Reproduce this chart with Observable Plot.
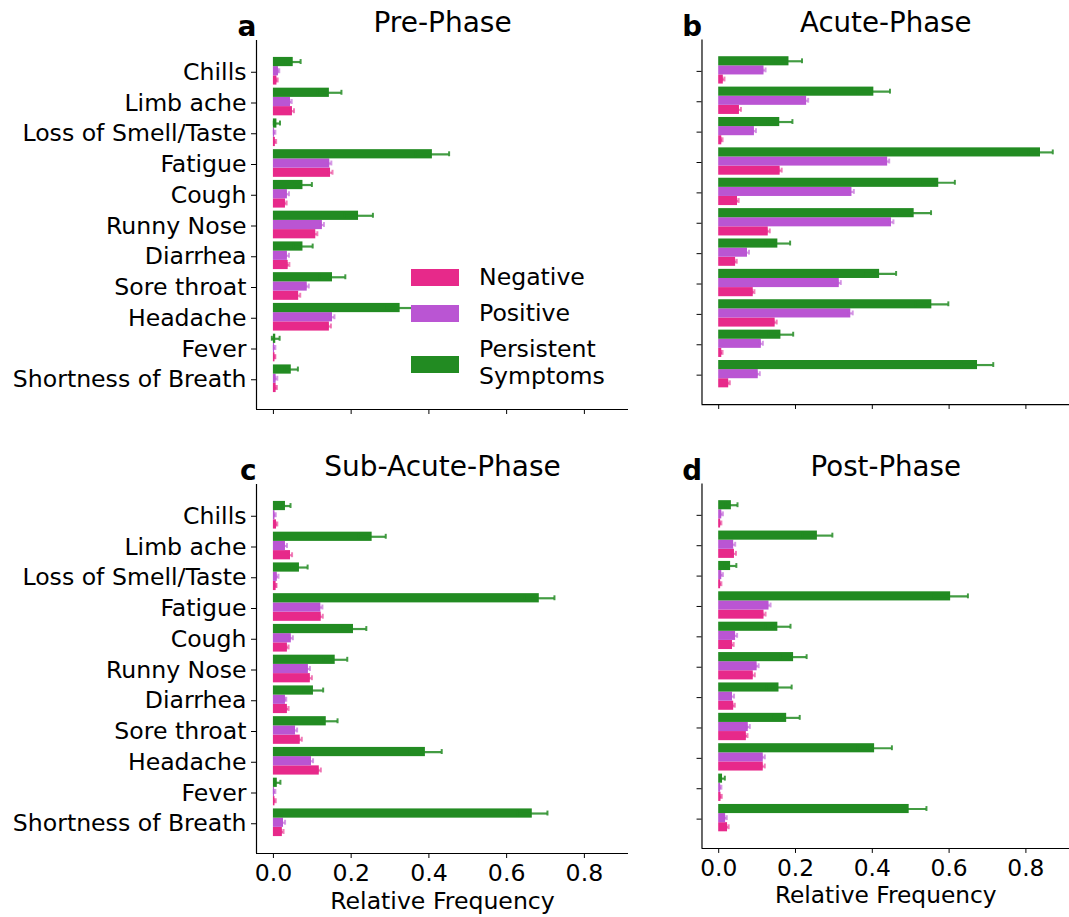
<!DOCTYPE html>
<html><head><meta charset="utf-8">
<script src="https://cdn.jsdelivr.net/npm/d3@7"></script>
<script src="https://cdn.jsdelivr.net/npm/@observablehq/plot@0.6"></script>
<style>
html,body{margin:0;padding:0;background:#fff;overflow:hidden;}
#wrap{position:relative;width:1069px;height:917px;overflow:hidden;font-family:"DejaVu Sans",sans-serif;color:#000;}
.panel{position:absolute;}
.sw{position:absolute;left:411px;width:48px;height:17px;}
.lt{position:absolute;left:479px;font-size:23.6px;line-height:27px;white-space:nowrap;}
</style></head><body><div id="wrap"></div>
<script>
const symptoms = ["Chills","Limb ache","Loss of Smell/Taste","Fatigue","Cough","Runny Nose","Diarrhea","Sore throat","Headache","Fever","Shortness of Breath"];
const groups = ["Negative","Positive","Persistent Symptoms"];
const groupColors = ["#e7298a","#ba55d3","#228b22"];
const phases = ["Pre-Phase","Acute-Phase","Sub-Acute-Phase","Post-Phase"];
const letters = ["a","b","c","d"];
const xTicks = [0,0.2,0.4,0.6,0.8];
const xLabel = "Relative Frequency";

// Pre-Phase
const preNeg     = [0.009,0.049,0.005,0.147,0.031,0.109,0.038,0.065,0.144,0.004,0.007];
const preNegErr  = [0.002,0.004,0.002,0.005,0.003,0.004,0.003,0.004,0.004,0.001,0.002];
const prePos     = [0.013,0.044,0.003,0.145,0.036,0.126,0.036,0.087,0.152,0.003,0.007];
const prePosErr  = [0.002,0.003,0.002,0.004,0.004,0.004,0.004,0.004,0.005,0.002,0.003];
const prePers    = [0.051,0.144,0.009,0.409,0.076,0.219,0.076,0.152,0.326,0.006,0.046];
const prePersErr = [0.019,0.031,0.008,0.043,0.023,0.037,0.025,0.033,0.040,0.010,0.017];
// Acute-Phase
const acuNeg     = [0.012,0.054,0.008,0.160,0.049,0.129,0.044,0.090,0.147,0.008,0.026];
const acuNegErr  = [0.003,0.004,0.002,0.004,0.003,0.004,0.003,0.003,0.004,0.002,0.003];
const acuPos     = [0.118,0.229,0.093,0.440,0.347,0.450,0.075,0.314,0.344,0.111,0.103];
const acuPosErr  = [0.004,0.004,0.004,0.004,0.005,0.005,0.004,0.004,0.005,0.004,0.004];
const acuPers    = [0.183,0.404,0.159,0.838,0.573,0.509,0.154,0.419,0.555,0.162,0.674];
const acuPersErr = [0.034,0.042,0.033,0.032,0.042,0.044,0.032,0.043,0.043,0.032,0.041];
// Sub-Acute-Phase
const subNeg     = [0.008,0.044,0.007,0.123,0.036,0.095,0.036,0.069,0.118,0.004,0.023];
const subNegErr  = [0.002,0.004,0.001,0.004,0.003,0.004,0.003,0.004,0.004,0.002,0.003];
const subPos     = [0.004,0.031,0.010,0.122,0.046,0.090,0.031,0.057,0.098,0.003,0.026];
const subPosErr  = [0.002,0.004,0.003,0.004,0.004,0.004,0.002,0.004,0.004,0.002,0.004];
const subPers    = [0.031,0.254,0.067,0.684,0.206,0.159,0.103,0.136,0.391,0.010,0.666];
const subPersErr = [0.013,0.035,0.021,0.039,0.033,0.031,0.025,0.029,0.042,0.008,0.039];
// Post-Phase
const postNeg     = [0.005,0.041,0.005,0.118,0.036,0.090,0.039,0.072,0.116,0.006,0.023];
const postNegErr  = [0.002,0.004,0.002,0.004,0.003,0.004,0.003,0.003,0.004,0.002,0.003];
const postPos     = [0.008,0.039,0.008,0.131,0.044,0.100,0.036,0.077,0.116,0.005,0.018];
const postPosErr  = [0.003,0.004,0.003,0.004,0.004,0.004,0.004,0.004,0.004,0.002,0.003];
const postPers    = [0.033,0.257,0.031,0.604,0.154,0.195,0.157,0.177,0.406,0.010,0.496];
const postPersErr = [0.016,0.039,0.015,0.045,0.033,0.034,0.033,0.034,0.045,0.006,0.045];

const panelData = [
  [[preNeg,preNegErr],[prePos,prePosErr],[prePers,prePersErr]],
  [[acuNeg,acuNegErr],[acuPos,acuPosErr],[acuPers,acuPersErr]],
  [[subNeg,subNegErr],[subPos,subPosErr],[subPers,subPersErr]],
  [[postNeg,postNegErr],[postPos,postPosErr],[postPers,postPersErr]]
];

const groupOffset = [0.3, 0, -0.3];
const barHalf = 0.15, capHalf = 0.08;
const xDomain = [-0.0435, 0.9135];
const yDomain = [11, -1];

const layout = [
  {left:0,   top:0,   width:660, height:440, ml:256, mr:32, mt:40, mb:31, yLabels:true,  xLabels:false},
  {left:660, top:0,   width:414, height:440, ml:42,  mr:0,  mt:40, mb:31, yLabels:false, xLabels:false},
  {left:0,   top:440, width:660, height:477, ml:256, mr:32, mt:44, mb:64, yLabels:true,  xLabels:true},
  {left:660, top:440, width:414, height:477, ml:42,  mr:0,  mt:44, mb:64, yLabels:false, xLabels:true}
];

const wrap = document.getElementById("wrap");

phases.forEach((phase, p) => {
  const L = layout[p];
  const rows = [];
  panelData[p].forEach(([vals, errs], g) => {
    vals.forEach((v, i) => rows.push({i, g, v, e: errs[i], pos: i + groupOffset[g]}));
  });
  const color = d => groupColors[d.g];
  const plot = Plot.plot({
    width: L.width, height: L.height,
    marginLeft: L.ml, marginRight: L.mr, marginTop: L.mt, marginBottom: L.mb,
    x: {domain: xDomain},
    y: {domain: yDomain},
    style: {fontFamily: "DejaVu Sans, sans-serif", fontSize: "23.6px", color: "#000", background: "transparent", overflow: "visible"},
    marks: [
      Plot.rectX(rows, {x1: 0, x2: "v", y1: d => d.pos - barHalf, y2: d => d.pos + barHalf, fill: color}),
      Plot.ruleY(rows, {y: "pos", x1: d => d.v - d.e, x2: d => d.v + d.e, stroke: color, strokeWidth: 2.2, strokeOpacity: d => d.g === 2 ? 0.85 : 0.6}),
      Plot.ruleX(rows, {x: d => d.v - d.e, y1: d => d.pos - capHalf, y2: d => d.pos + capHalf, stroke: color, strokeWidth: 2, strokeOpacity: d => d.g === 2 ? 0.85 : 0.6}),
      Plot.ruleX(rows, {x: d => d.v + d.e, y1: d => d.pos - capHalf, y2: d => d.pos + capHalf, stroke: color, strokeWidth: 2, strokeOpacity: d => d.g === 2 ? 0.85 : 0.6}),
      Plot.ruleX([xDomain[0]], {stroke: "#000", strokeWidth: 1.2}),
      Plot.ruleY([yDomain[0]], {stroke: "#000", strokeWidth: 1.2}),
      Plot.axisY({ticks: d3.range(symptoms.length), tickSize: 5, tickPadding: 5, label: null,
        tickFormat: L.yLabels ? (i => symptoms[i]) : (() => ""), fontSize: 23.6, dy: 1}),
      Plot.axisX({ticks: xTicks, tickSize: 5, tickPadding: 6, label: null,
        tickFormat: L.xLabels ? d3.format(".1f") : (() => ""), fontSize: 23.6}),
      Plot.text([phase], {frameAnchor: "top", dy: -17, fontSize: 28, lineAnchor: "middle", fill: "#000"}),
      Plot.text([letters[p]], {frameAnchor: "top-left", textAnchor: "end", dx: 0, dy: -13, fontSize: 28, fontWeight: "bold", lineAnchor: "middle", fill: "#000"}),
      ...(L.xLabels ? [Plot.text([xLabel], {frameAnchor: "bottom", dy: 47.7, fontSize: 23.6, lineAnchor: "middle", fill: "#000"})] : [])
    ]
  });
  const div = document.createElement("div");
  div.className = "panel";
  div.style.left = L.left + "px";
  div.style.top = L.top + "px";
  div.appendChild(plot);
  wrap.appendChild(div);
});

// Legend (in panel a)
const swTops = [269, 305, 356];
const ltTops = [264, 300, 336];
groups.forEach((g, k) => {
  const sw = document.createElement("div");
  sw.className = "sw";
  sw.style.top = swTops[k] + "px";
  sw.style.background = groupColors[k];
  wrap.appendChild(sw);
  const lt = document.createElement("div");
  lt.className = "lt";
  lt.style.top = ltTops[k] + "px";
  if (k === 2) { lt.innerHTML = "Persistent<br>Symptoms"; } else { lt.textContent = g; }
  wrap.appendChild(lt);
});
</script></body></html>
